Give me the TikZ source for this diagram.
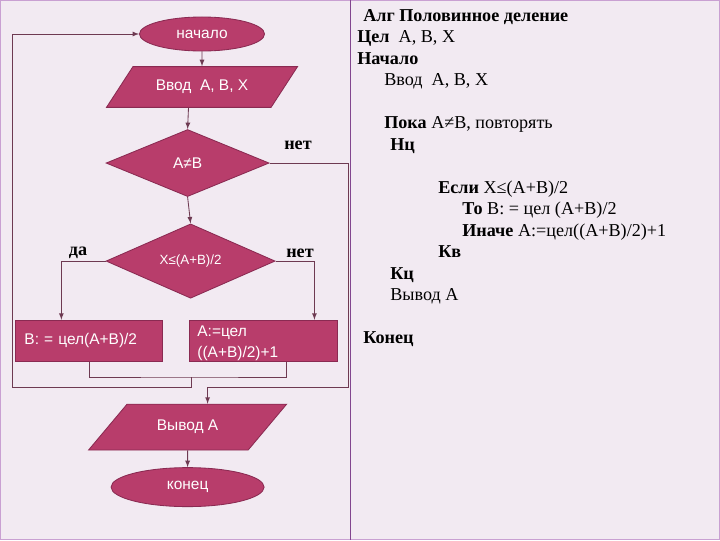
\documentclass[tikz,border=0pt]{standalone}
\usepackage{fontspec}
\setmainfont{Liberation Serif}
\newfontfamily\flowfont{Liberation Sans}
\usetikzlibrary{arrows,shapes.geometric}

\definecolor{blockfill}{HTML}{B83D6B}
\definecolor{blockline}{HTML}{8A2A52}
\definecolor{wirecol}{HTML}{6E3A52}
\definecolor{paper}{HTML}{F2EAF2}
\definecolor{framecol}{HTML}{C9A0D2}
\definecolor{divider}{HTML}{82468F}

\begin{document}
\begin{tikzpicture}[x=0.025cm,y=-0.025cm,node distance=1cm,>=latex,
    block/.style={draw=blockline,fill=blockfill,text=white,line width=0.6pt,
      font=\flowfont\fontsize{11}{14.9}\selectfont},
    terminal/.style={block,ellipse,inner sep=0pt},
    io/.style={block,trapezium,trapezium stretches body,inner xsep=0pt,text height=8pt,text depth=2.5pt},
    cond/.style={block,diamond,inner sep=0pt},
    action/.style={block,rectangle,minimum height=1.025cm,inner ysep=0pt,align=left},
    lbl/.style={font=\bfseries\fontsize{12.9}{15}\selectfont},
    code/.style={inner sep=0pt,anchor=north west,align=left,
      font=\fontsize{12.9}{15.3}\selectfont},
    wire/.style={draw=wirecol,line width=0.6pt}]
                \useasboundingbox (0,0) rectangle (720,540);
                \fill[paper] (0,0) rectangle (720,540);
                \draw[framecol,line width=1pt] (0.7,0.7) rectangle (719.3,539.3);
                \draw[divider,line width=1.2pt] (350.5,0) -- (350.5,540);

                % flowchart
                \node[terminal,minimum width=3.125cm,minimum height=0.85cm] (start) at (202,34) {начало};
                \node[io,trapezium left angle=57,trapezium right angle=123,minimum width=4.775cm,inner ysep=9.25pt] (input) [below of=start, yshift=-0.325cm] {Ввод~ А, В, Х};
                \node[cond,minimum width=4.075cm,minimum height=1.675cm] (cond1) [below of=input, yshift=-0.9cm, xshift=-0.36cm] {А≠В};
                \node[cond,minimum width=4.225cm,minimum height=1.825cm] (cond2) [below of=cond1, yshift=-1.45cm, xshift=0.075cm] {\fontsize{9.5}{12}\selectfont Х≤(А+В)/2};
                \node[action,minimum width=3.675cm,text width=3.225cm,inner xsep=0.225cm] (thenbox) [below of=cond2, xshift=-2.54cm, yshift=-0.99cm] {В: = цел(А+В)/2};
                \node[action,minimum width=3.7cm,text width=3.3cm,inner xsep=0.2cm] (elsebox) [right of=thenbox, xshift=3.36cm] {\rule{0pt}{11.8pt}А:=цел\\((А+В)/2)+1};
                \node[io,trapezium left angle=50,trapezium right angle=130,minimum width=4.95cm,inner ysep=11.05pt] (output) [below of=cond2, yshift=-3.15cm, xshift=-0.075cm] {Вывод А};
                \node[terminal,minimum width=3.825cm,minimum height=0.975cm] (end) [below of=output, yshift=-0.5cm] {конец};

                \node[lbl] (no1) at (298,145) {нет};
                \node[lbl] (yes2) at (78,253) {да};
                \node[lbl] (no2) at (300,253) {нет};

                \coordinate (merge) at (191,377);
                \coordinate (lloop) at (12,387);
                \coordinate (rloop) at (348.5,387);

                \draw[wire,->] (start) -- (input);
                \draw[wire,->] (input.bottom side) -- (cond1.north);
                \draw[wire,->] (cond1.south) -- (cond2.north);
                \draw[wire,->] (cond2.west) -| ([xshift=-0.69cm]thenbox.north);
                \draw[wire,->] (cond2.east) -| ([xshift=1.275cm]elsebox.north);
                \draw[wire] (thenbox.south) |- (merge) -| ([xshift=0.575cm]elsebox.south);
                \draw[wire,->] (merge) |- (lloop) |- (start.west);
                \draw[wire,->] (cond1.east) -| (rloop) -| ([xshift=0.5cm]output.north);
                \draw[wire,->] (output) -- (end);

                % program text
                \node[code] (prog) at (357,8.8) {%
                \hspace*{0.15cm}\textbf{Алг Половинное деление}\\
                \textbf{Цел}~ А, В, Х\\
                \textbf{Начало}\\
                \hspace*{0.675cm}Ввод~ А, В, Х\\[15.3pt]
                \hspace*{0.675cm}\textbf{Пока} А≠В, повторять\\
                \hspace*{0.825cm}\textbf{Нц}\\[15.3pt]
                \hspace*{2.025cm}\textbf{Если} Х≤(А+В)/2\\
                \hspace*{2.625cm}\textbf{То} В: = цел (А+В)/2\\
                \hspace*{2.625cm}\textbf{Иначе} А:=цел((А+В)/2)+1\\
                \hspace*{2.025cm}\textbf{Кв}\\
                \hspace*{0.825cm}\textbf{Кц}\\
                \hspace*{0.825cm}Вывод А\\[15.3pt]
                \hspace*{0.15cm}\textbf{Конец}};
            \end{tikzpicture}
\end{document}
